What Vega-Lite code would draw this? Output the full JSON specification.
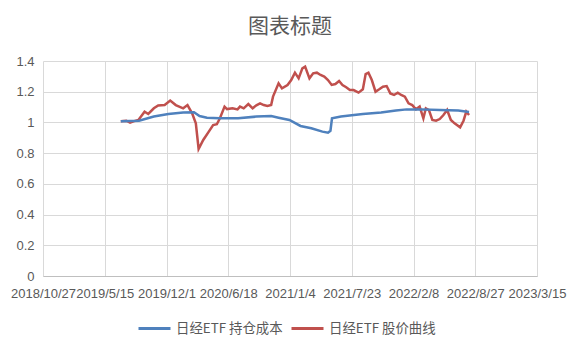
{
  "$schema": "https://vega.github.io/schema/vega-lite/v6.json",
  "width": 494,
  "height": 215,
  "autosize": {"type": "none"},
  "padding": {"left": 43, "top": 61, "right": 38, "bottom": 75},
  "background": "white",
  "title": {"text": "图表标题", "font": "Noto Sans CJK SC", "fontSize": 21, "fontWeight": "normal", "color": "#595959", "anchor": "middle", "offset": 18},
  "data": {"values": [
    {"date": "2019-07-06", "value": 1.007, "series": "日经ETF 股价曲线"},
    {"date": "2019-07-24", "value": 1.011, "series": "日经ETF 股价曲线"},
    {"date": "2019-08-05", "value": 0.998, "series": "日经ETF 股价曲线"},
    {"date": "2019-08-16", "value": 1.007, "series": "日经ETF 股价曲线"},
    {"date": "2019-09-01", "value": 1.016, "series": "日经ETF 股价曲线"},
    {"date": "2019-09-21", "value": 1.070, "series": "日经ETF 股价曲线"},
    {"date": "2019-10-03", "value": 1.055, "series": "日经ETF 股价曲线"},
    {"date": "2019-10-21", "value": 1.092, "series": "日经ETF 股价曲线"},
    {"date": "2019-11-04", "value": 1.111, "series": "日经ETF 股价曲线"},
    {"date": "2019-11-25", "value": 1.113, "series": "日经ETF 股价曲线"},
    {"date": "2019-12-13", "value": 1.142, "series": "日经ETF 股价曲线"},
    {"date": "2019-12-31", "value": 1.113, "series": "日经ETF 股价曲线"},
    {"date": "2020-01-24", "value": 1.092, "series": "日经ETF 股价曲线"},
    {"date": "2020-02-07", "value": 1.113, "series": "日经ETF 股价曲线"},
    {"date": "2020-02-22", "value": 1.059, "series": "日经ETF 股价曲线"},
    {"date": "2020-03-05", "value": 0.994, "series": "日经ETF 股价曲线"},
    {"date": "2020-03-14", "value": 0.827, "series": "日经ETF 股价曲线"},
    {"date": "2020-03-29", "value": 0.886, "series": "日经ETF 股价曲线"},
    {"date": "2020-04-16", "value": 0.940, "series": "日经ETF 股价曲线"},
    {"date": "2020-04-30", "value": 0.983, "series": "日经ETF 股价曲线"},
    {"date": "2020-05-12", "value": 0.988, "series": "日经ETF 股价曲线"},
    {"date": "2020-05-22", "value": 1.027, "series": "日经ETF 股价曲线"},
    {"date": "2020-06-06", "value": 1.103, "series": "日经ETF 股价曲线"},
    {"date": "2020-06-14", "value": 1.087, "series": "日经ETF 股价曲线"},
    {"date": "2020-07-02", "value": 1.092, "series": "日经ETF 股价曲线"},
    {"date": "2020-07-18", "value": 1.085, "series": "日经ETF 股价曲线"},
    {"date": "2020-07-26", "value": 1.103, "series": "日经ETF 股价曲线"},
    {"date": "2020-08-07", "value": 1.092, "series": "日经ETF 股价曲线"},
    {"date": "2020-08-22", "value": 1.120, "series": "日经ETF 股价曲线"},
    {"date": "2020-09-05", "value": 1.092, "series": "日经ETF 股价曲线"},
    {"date": "2020-09-17", "value": 1.111, "series": "日经ETF 股价曲线"},
    {"date": "2020-09-29", "value": 1.124, "series": "日经ETF 股价曲线"},
    {"date": "2020-10-11", "value": 1.113, "series": "日经ETF 股价曲线"},
    {"date": "2020-10-23", "value": 1.107, "series": "日经ETF 股价曲线"},
    {"date": "2020-11-04", "value": 1.113, "series": "日经ETF 股价曲线"},
    {"date": "2020-11-10", "value": 1.168, "series": "日经ETF 股价曲线"},
    {"date": "2020-11-28", "value": 1.255, "series": "日经ETF 股价曲线"},
    {"date": "2020-12-09", "value": 1.222, "series": "日经ETF 股价曲线"},
    {"date": "2020-12-27", "value": 1.244, "series": "日经ETF 股价曲线"},
    {"date": "2021-01-08", "value": 1.276, "series": "日经ETF 股价曲线"},
    {"date": "2021-01-20", "value": 1.324, "series": "日经ETF 股价曲线"},
    {"date": "2021-02-01", "value": 1.287, "series": "日经ETF 股价曲线"},
    {"date": "2021-02-13", "value": 1.352, "series": "日经ETF 股价曲线"},
    {"date": "2021-02-22", "value": 1.363, "series": "日经ETF 股价曲线"},
    {"date": "2021-03-08", "value": 1.287, "series": "日经ETF 股价曲线"},
    {"date": "2021-03-20", "value": 1.320, "series": "日经ETF 股价曲线"},
    {"date": "2021-04-01", "value": 1.324, "series": "日经ETF 股价曲线"},
    {"date": "2021-04-13", "value": 1.309, "series": "日经ETF 股价曲线"},
    {"date": "2021-04-25", "value": 1.298, "series": "日经ETF 股价曲线"},
    {"date": "2021-05-07", "value": 1.276, "series": "日经ETF 股价曲线"},
    {"date": "2021-05-19", "value": 1.244, "series": "日经ETF 股价曲线"},
    {"date": "2021-05-31", "value": 1.250, "series": "日经ETF 股价曲线"},
    {"date": "2021-06-12", "value": 1.270, "series": "日经ETF 股价曲线"},
    {"date": "2021-06-23", "value": 1.244, "series": "日经ETF 股价曲线"},
    {"date": "2021-07-05", "value": 1.229, "series": "日经ETF 股价曲线"},
    {"date": "2021-07-17", "value": 1.211, "series": "日经ETF 股价曲线"},
    {"date": "2021-07-29", "value": 1.211, "series": "日经ETF 股价曲线"},
    {"date": "2021-08-14", "value": 1.194, "series": "日经ETF 股价曲线"},
    {"date": "2021-08-28", "value": 1.216, "series": "日经ETF 股价曲线"},
    {"date": "2021-09-06", "value": 1.315, "series": "日经ETF 股价曲线"},
    {"date": "2021-09-15", "value": 1.324, "series": "日经ETF 股价曲线"},
    {"date": "2021-09-26", "value": 1.276, "series": "日经ETF 股价曲线"},
    {"date": "2021-10-08", "value": 1.200, "series": "日经ETF 股价曲线"},
    {"date": "2021-10-20", "value": 1.216, "series": "日经ETF 股价曲线"},
    {"date": "2021-11-01", "value": 1.233, "series": "日经ETF 股价曲线"},
    {"date": "2021-11-13", "value": 1.237, "series": "日经ETF 股价曲线"},
    {"date": "2021-11-25", "value": 1.189, "series": "日经ETF 股价曲线"},
    {"date": "2021-12-07", "value": 1.179, "series": "日经ETF 股价曲线"},
    {"date": "2021-12-19", "value": 1.194, "series": "日经ETF 股价曲线"},
    {"date": "2021-12-30", "value": 1.179, "series": "日经ETF 股价曲线"},
    {"date": "2022-01-11", "value": 1.168, "series": "日经ETF 股价曲线"},
    {"date": "2022-01-23", "value": 1.124, "series": "日经ETF 股价曲线"},
    {"date": "2022-02-04", "value": 1.113, "series": "日经ETF 股价曲线"},
    {"date": "2022-02-16", "value": 1.085, "series": "日经ETF 股价曲线"},
    {"date": "2022-02-28", "value": 1.103, "series": "日经ETF 股价曲线"},
    {"date": "2022-03-12", "value": 1.027, "series": "日经ETF 股价曲线"},
    {"date": "2022-03-20", "value": 1.092, "series": "日经ETF 股价曲线"},
    {"date": "2022-03-30", "value": 1.081, "series": "日经ETF 股价曲线"},
    {"date": "2022-04-10", "value": 1.016, "series": "日经ETF 股价曲线"},
    {"date": "2022-04-22", "value": 1.011, "series": "日经ETF 股价曲线"},
    {"date": "2022-05-04", "value": 1.022, "series": "日经ETF 股价曲线"},
    {"date": "2022-05-16", "value": 1.048, "series": "日经ETF 股价曲线"},
    {"date": "2022-05-28", "value": 1.081, "series": "日经ETF 股价曲线"},
    {"date": "2022-06-09", "value": 1.016, "series": "日经ETF 股价曲线"},
    {"date": "2022-06-21", "value": 0.994, "series": "日经ETF 股价曲线"},
    {"date": "2022-07-09", "value": 0.968, "series": "日经ETF 股价曲线"},
    {"date": "2022-07-20", "value": 1.011, "series": "日经ETF 股价曲线"},
    {"date": "2022-07-29", "value": 1.070, "series": "日经ETF 股价曲线"},
    {"date": "2022-08-07", "value": 1.048, "series": "日经ETF 股价曲线"},
    {"date": "2019-07-06", "value": 1.007, "series": "日经ETF 持仓成本"},
    {"date": "2019-09-03", "value": 1.011, "series": "日经ETF 持仓成本"},
    {"date": "2019-10-21", "value": 1.038, "series": "日经ETF 持仓成本"},
    {"date": "2019-12-07", "value": 1.055, "series": "日经ETF 持仓成本"},
    {"date": "2020-01-24", "value": 1.064, "series": "日经ETF 持仓成本"},
    {"date": "2020-02-28", "value": 1.066, "series": "日经ETF 持仓成本"},
    {"date": "2020-03-17", "value": 1.042, "series": "日经ETF 持仓成本"},
    {"date": "2020-04-10", "value": 1.031, "series": "日经ETF 持仓成本"},
    {"date": "2020-05-22", "value": 1.027, "series": "日经ETF 持仓成本"},
    {"date": "2020-07-20", "value": 1.027, "series": "日经ETF 持仓成本"},
    {"date": "2020-09-17", "value": 1.038, "series": "日经ETF 持仓成本"},
    {"date": "2020-11-04", "value": 1.042, "series": "日经ETF 持仓成本"},
    {"date": "2020-11-28", "value": 1.031, "series": "日经ETF 持仓成本"},
    {"date": "2021-01-02", "value": 1.016, "series": "日经ETF 持仓成本"},
    {"date": "2021-02-07", "value": 0.977, "series": "日经ETF 持仓成本"},
    {"date": "2021-03-14", "value": 0.962, "series": "日经ETF 持仓成本"},
    {"date": "2021-04-19", "value": 0.940, "series": "日经ETF 持仓成本"},
    {"date": "2021-05-07", "value": 0.933, "series": "日经ETF 持仓成本"},
    {"date": "2021-05-15", "value": 0.946, "series": "日经ETF 持仓成本"},
    {"date": "2021-05-20", "value": 1.027, "series": "日经ETF 持仓成本"},
    {"date": "2021-06-18", "value": 1.038, "series": "日经ETF 持仓成本"},
    {"date": "2021-07-23", "value": 1.046, "series": "日经ETF 持仓成本"},
    {"date": "2021-08-28", "value": 1.055, "series": "日经ETF 持仓成本"},
    {"date": "2021-10-26", "value": 1.064, "series": "日经ETF 持仓成本"},
    {"date": "2021-12-13", "value": 1.077, "series": "日经ETF 持仓成本"},
    {"date": "2022-01-17", "value": 1.085, "series": "日经ETF 持仓成本"},
    {"date": "2022-03-06", "value": 1.085, "series": "日经ETF 持仓成本"},
    {"date": "2022-05-04", "value": 1.081, "series": "日经ETF 持仓成本"},
    {"date": "2022-07-03", "value": 1.077, "series": "日经ETF 持仓成本"},
    {"date": "2022-08-07", "value": 1.068, "series": "日经ETF 持仓成本"}
  ]},
  "mark": {"type": "line", "strokeWidth": 2.5},
  "encoding": {
    "x": {
      "field": "date", "type": "temporal",
      "scale": {"type": "utc", "domain": [{"year": 2018, "month": 10, "date": 27, "utc": true}, {"year": 2023, "month": 3, "date": 15, "utc": true}]},
      "axis": {
        "title": null,
        "values": [
          {"year": 2018, "month": 10, "date": 27, "utc": true},
          {"year": 2019, "month": 5, "date": 15, "utc": true},
          {"year": 2019, "month": 12, "date": 1, "utc": true},
          {"year": 2020, "month": 6, "date": 18, "utc": true},
          {"year": 2021, "month": 1, "date": 4, "utc": true},
          {"year": 2021, "month": 7, "date": 23, "utc": true},
          {"year": 2022, "month": 2, "date": 8, "utc": true},
          {"year": 2022, "month": 8, "date": 27, "utc": true},
          {"year": 2023, "month": 3, "date": 15, "utc": true}
        ],
        "labelExpr": "utcFormat(datum.value, '%Y/%-m/%-d')",
        "labelOverlap": false, "labelBound": false, "labelFlush": false,
        "labelFont": "Liberation Sans", "labelFontSize": 13, "labelColor": "#595959",
        "labelPadding": 11, "ticks": false,
        "grid": true, "gridColor": "#d9d9d9", "gridWidth": 1,
        "domainColor": "#bfbfbf", "domainWidth": 1
      }
    },
    "y": {
      "field": "value", "type": "quantitative",
      "scale": {"domain": [0, 1.4], "nice": false, "zero": true},
      "axis": {
        "title": null,
        "values": [0, 0.2, 0.4, 0.6, 0.8, 1, 1.2, 1.4],
        "format": ".1~f",
        "labelFont": "Liberation Sans", "labelFontSize": 13, "labelColor": "#595959",
        "labelPadding": 9, "ticks": false, "domain": false,
        "grid": true, "gridColor": "#d9d9d9", "gridWidth": 1
      }
    },
    "color": {
      "field": "series", "type": "nominal",
      "scale": {"domain": ["日经ETF 持仓成本", "日经ETF 股价曲线"], "range": ["#4F81BD", "#C0504D"]},
      "legend": {
        "title": null, "orient": "none", "legendX": 94, "legendY": 250, "direction": "horizontal",
        "symbolType": "stroke", "symbolSize": 1024, "symbolStrokeWidth": 3,
        "labelFont": "Noto Sans CJK SC", "labelFontSize": 13.4, "labelColor": "#595959",
        "labelOffset": 4, "columnPadding": 2
      }
    }
  },
  "config": {"view": {"stroke": null}}
}
